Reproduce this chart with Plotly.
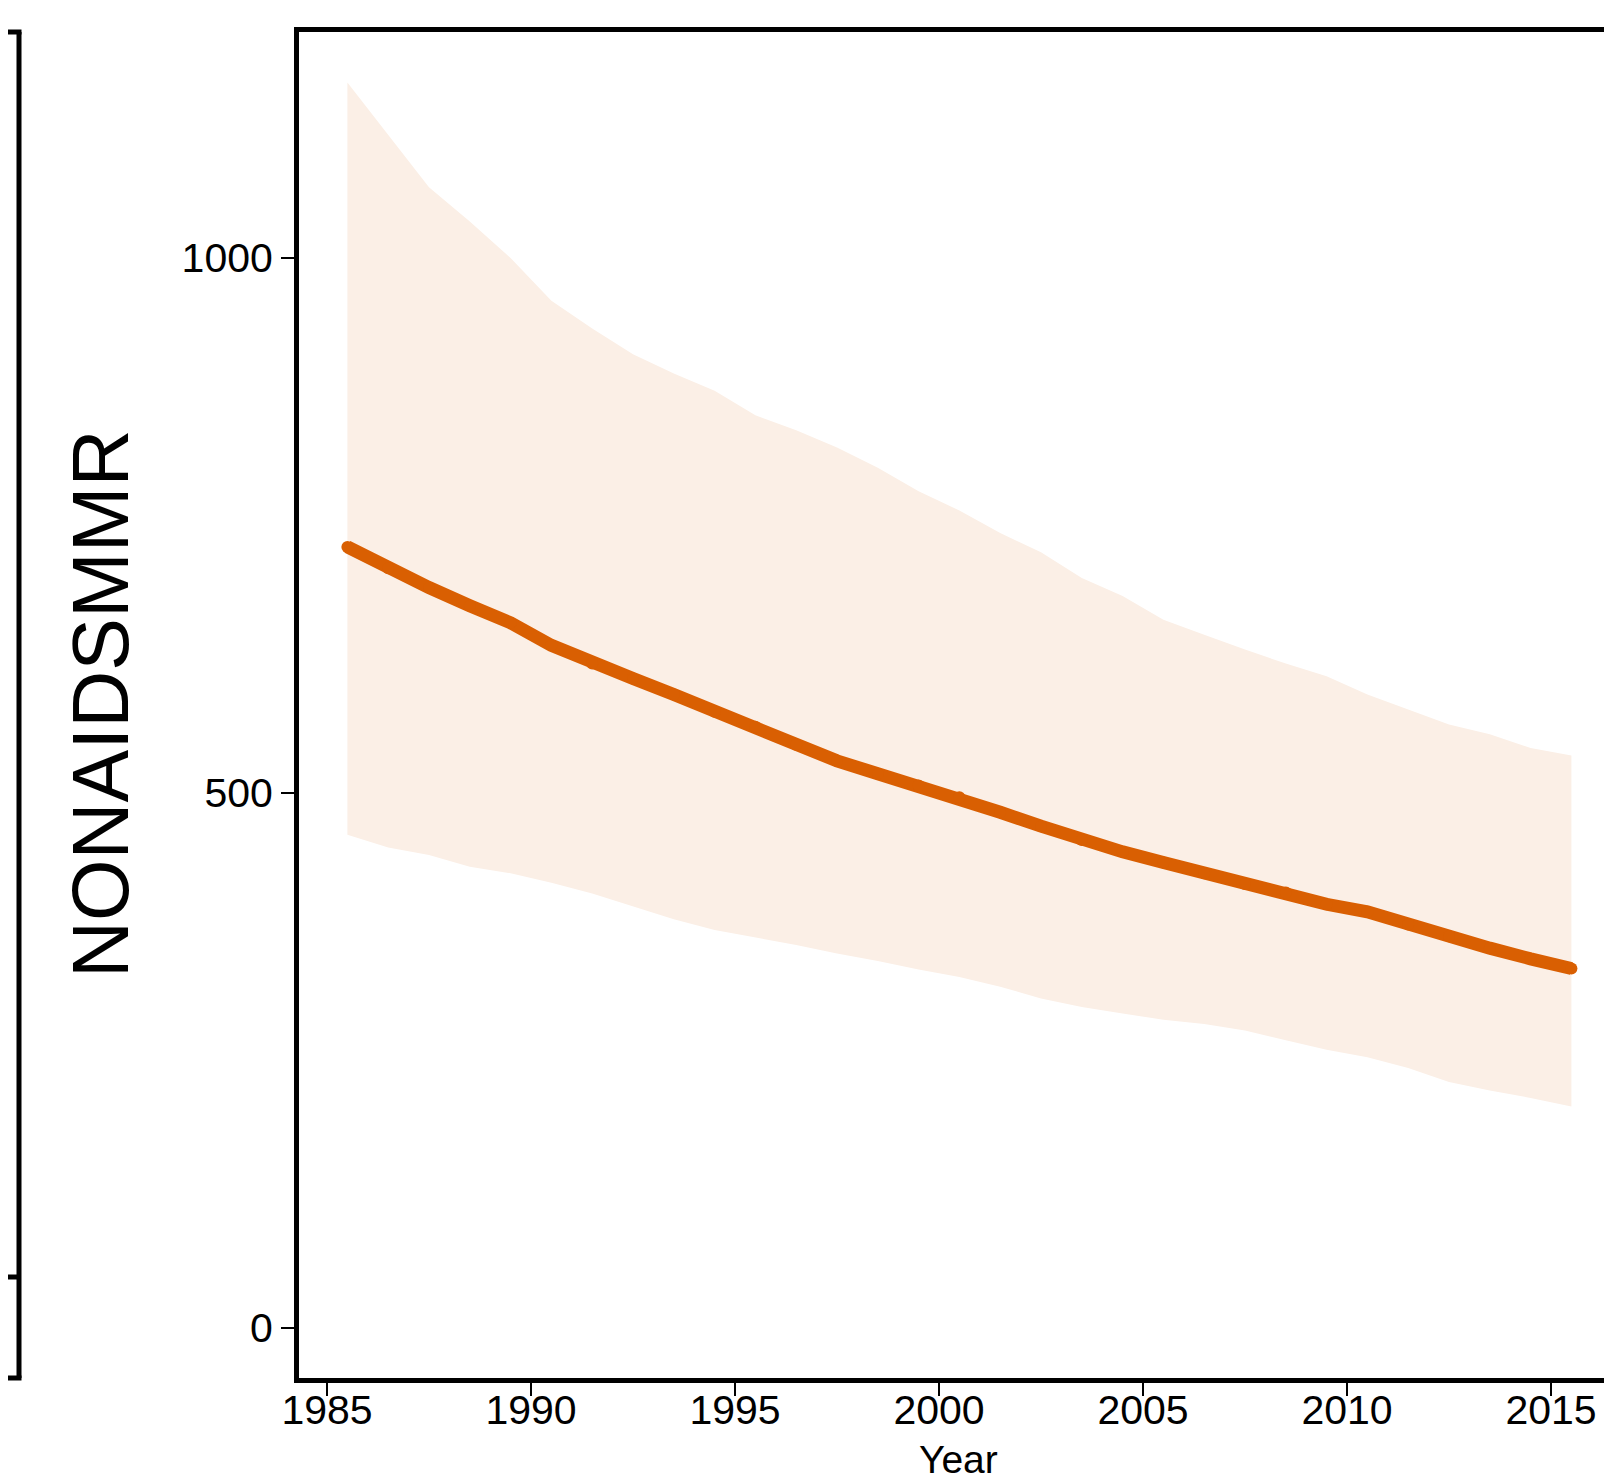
import plotly.graph_objects as go

years = [1985.5 + i for i in range(31)]
median = [730, 710, 692, 675, 659, 638, 621, 607, 592, 576, 562, 545, 530, 518, 507,
          496, 482, 469, 456, 445, 435, 425, 415, 407, 396, 389, 377, 366, 355, 345, 336]
upper = [1164, 1115, 1066, 1034, 1000, 960, 934, 910, 892, 876, 853, 839, 823, 804, 782,
         764, 743, 725, 701, 684, 662, 648, 634, 621, 609, 592, 578, 564, 555, 542, 535]
lower = [461, 449, 442, 431, 425, 416, 406, 394, 382, 372, 365, 358, 350, 343, 335,
         328, 319, 308, 300, 294, 288, 284, 278, 269, 260, 253, 243, 230, 222, 215, 207]
xticks = [1985, 1990, 1995, 2000, 2005, 2010, 2015]
yticks = [0, 500, 1000]

OFF = 8  # default page body margin: plot is drawn 8px right/down
W, H = 1612 - OFF, 1484 - OFF
LINE = "#D95F02"
FILL = "#FBEFE6"
FONT = "Liberation Sans, Arial, sans-serif"


def px(x):
    return (x - OFF) / W


def py(y):
    return (H - (y - OFF)) / H


fig = go.Figure()
fig.add_trace(go.Scatter(
    x=years + years[::-1], y=upper + lower[::-1],
    fill="toself", fillcolor=FILL, line=dict(width=0, color=FILL),
    mode="lines", hoverinfo="skip", showlegend=False))
fig.add_trace(go.Scatter(
    x=years, y=median, mode="lines+markers",
    line=dict(color=LINE, width=13, shape="linear"),
    marker=dict(color=LINE, size=12, line=dict(width=0)),
    showlegend=False))

px_per_year = 40.8
x_left = 1985 - (327 - 299) / px_per_year
x_right = 1985 + (OFF + W - 327) / px_per_year

fig.update_layout(
    width=W, height=H, autosize=False,
    margin=dict(l=0, r=0, t=0, b=0, pad=0),
    paper_bgcolor="white", plot_bgcolor="white",
    font=dict(family=FONT, color="black", size=40),
    xaxis=dict(
        domain=[px(299), 1.0], automargin=False,
        range=[x_left, x_right],
        tickvals=xticks, ticktext=[str(t) for t in xticks],
        ticks="outside", ticklen=13, tickwidth=2, tickcolor="black",
        showline=True, linewidth=5, linecolor="black", mirror=True,
        showgrid=False, zeroline=False,
        tickfont=dict(size=41, family=FONT), ticklabelstandoff=-21,
    ),
    yaxis=dict(
        domain=[py(1378), py(32)], automargin=False,
        range=[-46.73, 1211.2],
        tickvals=yticks, ticktext=[str(t) for t in yticks],
        ticks="outside", ticklen=13, tickwidth=2, tickcolor="black",
        showline=True, linewidth=5, linecolor="black", mirror=False,
        showgrid=False, zeroline=False,
        tickfont=dict(size=41, family=FONT),
    ),
    annotations=[
        dict(text="NONAIDSMMR", x=px(100), y=py(704), xref="paper", yref="paper",
             textangle=-90, showarrow=False, xanchor="center", yanchor="middle",
             font=dict(size=79, family=FONT)),
        dict(text="Year", x=px(958), y=py(1459), xref="paper", yref="paper",
             showarrow=False, xanchor="center", yanchor="middle",
             font=dict(size=39, family=FONT)),
    ],
    shapes=[
        # fragment of neighbouring panel on the left
        dict(type="line", xref="paper", yref="paper", x0=px(19), x1=px(19),
             y0=py(1378), y1=py(32), line=dict(color="black", width=5)),
        dict(type="line", xref="paper", yref="paper", x0=px(0), x1=px(21.5),
             y0=py(32), y1=py(32), line=dict(color="black", width=5)),
        dict(type="line", xref="paper", yref="paper", x0=px(0), x1=px(21.5),
             y0=py(1378), y1=py(1378), line=dict(color="black", width=5)),
        dict(type="line", xref="paper", yref="paper", x0=px(0), x1=px(19),
             y0=py(1277), y1=py(1277), line=dict(color="black", width=5)),
    ],
)

fig.write_html("out.html")
